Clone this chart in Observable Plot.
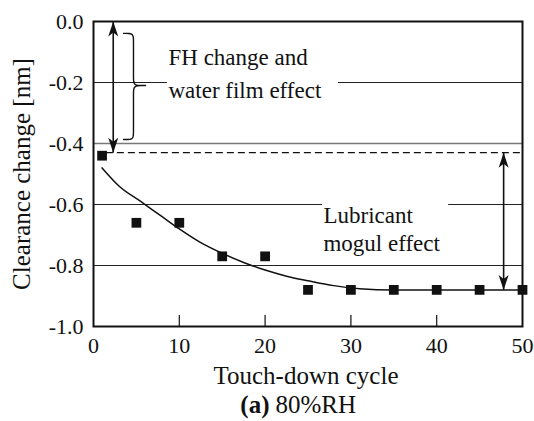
<!DOCTYPE html>
<html>
<head>
<meta charset="utf-8">
<script src="https://cdn.jsdelivr.net/npm/d3@7"></script>
<script src="https://cdn.jsdelivr.net/npm/@observablehq/plot@0.6"></script>
<style>
  html, body { margin: 0; padding: 0; background: #fff; }
  #chart svg { display: block; }
</style>
</head>
<body>
<div id="chart"></div>
<script>
// Measured points (square markers)
const cycles = [1, 5, 10, 15, 20, 25, 30, 35, 40, 45, 50];
const clearance = [-0.44, -0.66, -0.66, -0.77, -0.77, -0.88, -0.88, -0.88, -0.88, -0.88, -0.88];

// Fitted curve
const fitCycles = [1, 3, 5.5, 8, 10, 12.5, 15, 17.5, 20, 22.5, 25, 28, 31, 35, 40, 45, 50];
const fitClearance = [-0.48, -0.54, -0.59, -0.64, -0.68, -0.725, -0.76, -0.79, -0.815, -0.835, -0.85, -0.866, -0.876, -0.88, -0.88, -0.88, -0.88];

// Axis ticks
const xTicks = [0, 10, 20, 30, 40, 50];
const yTicks = [0, -0.2, -0.4, -0.6, -0.8, -1.0];

// Grid line segments (interrupted by the annotation text)
const gridY  = [-0.2, -0.2, -0.4, -0.6, -0.6, -0.8];
const gridX1 = [0, 28.55, 0, 0, 41.4, 0];
const gridX2 = [8.62, 50, 50, 26.7, 50, 50];

// Annotation text
const noteText = ["FH change and", "water film effect", "Lubricant", "mogul effect"];
const noteX = [8.74, 8.74, 26.8, 26.8];
const noteY = [-0.144, -0.252, -0.662, -0.754];

// Reference levels and arrows
const plateau = -0.43;
const arrowX = [2.3, 47.8];
const arrowFrom = [0, -0.43];
const arrowTo = [-0.43, -0.88];

// Brace "}" geometry
const brace = {xa: 3.5, xb: 4.66, xc: 6.06, bTop: -0.039, bMid: -0.21, bBot: -0.387, bR: 0.035};

const pts = cycles.map((c, i) => ({x: c, y: clearance[i]}));
const fit = fitCycles.map((c, i) => ({x: c, y: fitClearance[i]}));
const grid = gridY.map((g, i) => ({y: g, x1: gridX1[i], x2: gridX2[i]}));
const notes = noteText.map((t, i) => ({text: t, x: noteX[i], y: noteY[i]}));
const arrows = arrowX.map((x, i) => ({x, y1: arrowFrom[i], y2: arrowTo[i]}));
const heads = arrows.flatMap((a) => [{x: a.x, y: a.y1, rot: 0}, {x: a.x, y: a.y2, rot: 180}]);

// arrowhead symbol: tip at the origin, pointing up
const arrowHead = {
  draw(ctx) {
    ctx.moveTo(0, 0);
    ctx.lineTo(5, 15);
    ctx.lineTo(0, 11);
    ctx.lineTo(-5, 15);
    ctx.closePath();
  }
};

function bez(p0, p1, p2, p3, n = 16) {
  const out = [];
  for (let k = 0; k <= n; k++) {
    const t = k / n, u = 1 - t;
    out.push({
      x: u*u*u*p0[0] + 3*u*u*t*p1[0] + 3*u*t*t*p2[0] + t*t*t*p3[0],
      y: u*u*u*p0[1] + 3*u*u*t*p1[1] + 3*u*t*t*p2[1] + t*t*t*p3[1]
    });
  }
  return out;
}
function bracePoints(b) {
  const {xa, xb, xc, bTop, bMid, bBot, bR} = b;
  return [
    ...bez([xa, bTop], [xb, bTop], [xb, bTop], [xb, bTop - bR]),
    ...bez([xb, bMid + bR], [xb, bMid], [xb, bMid], [xc, bMid]),
    ...bez([xc, bMid], [xb, bMid], [xb, bMid], [xb, bMid - bR]),
    ...bez([xb, bBot + bR], [xb, bBot], [xb, bBot], [xa, bBot])
  ];
}
const bracePts = bracePoints(brace);

const font = "'Liberation Serif', serif";

const chart = Plot.plot({
  width: 534,
  height: 421,
  marginLeft: 93,
  marginRight: 12,
  marginTop: 21,
  marginBottom: 95,
  style: {fontFamily: font, fontSize: "22px", color: "#111", background: "#fff"},
  x: {domain: [0, 50]},
  y: {domain: [-1, 0]},
  marks: [
    Plot.ruleY(grid, {y: "y", x1: "x1", x2: "x2", stroke: (d) => d.y === -0.4 ? "#777" : "#222", strokeWidth: (d) => d.y === -0.4 ? 1.6 : 1}),
    Plot.ruleY([plateau], {x1: 1.5, x2: 50, stroke: "#111", strokeWidth: 1.3, strokeDasharray: "7,4"}),
    Plot.ruleX(xTicks.slice(1, -1), {x: (d) => d, y1: -1, y2: -0.964, stroke: "#111", strokeWidth: 1.2}),
    Plot.line(fit, {x: "x", y: "y", curve: "monotone-x", stroke: "#111", strokeWidth: 1.5}),
    Plot.dot(pts, {x: "x", y: "y", symbol: "square", r: 5.5, fill: "#111", stroke: "none"}),
    Plot.link(arrows, {x1: "x", x2: "x", y1: "y1", y2: "y2", stroke: "#111", strokeWidth: 1.6}),
    Plot.dot(heads, {x: "x", y: "y", rotate: "rot", symbol: arrowHead, fill: "#111", stroke: "none"}),
    Plot.line(bracePts, {x: "x", y: "y", stroke: "#111", strokeWidth: 1.4}),
    Plot.text(notes, {x: "x", y: "y", text: "text", textAnchor: "start", lineAnchor: "bottom", fontSize: 23, fontFamily: font, fill: "#111"}),
    Plot.axisY(yTicks, {tickSize: 0, tickPadding: 10, tickFormat: (d) => d.toFixed(1), label: null, fontSize: 22, fontFamily: font}),
    Plot.axisX(xTicks, {tickSize: 0, tickPadding: 11, tickFormat: (d) => String(d), label: null, fontSize: 22, fontFamily: font}),
    Plot.frame({stroke: "#111", strokeWidth: 2}),
    Plot.text(["Clearance change [nm]"], {frameAnchor: "left", rotate: -90, dx: -72, textAnchor: "middle", lineAnchor: "middle", fontSize: 25, fontFamily: font, fill: "#111"}),
    Plot.text(["Touch-down cycle"], {frameAnchor: "bottom", dx: -2, dy: 57, textAnchor: "middle", lineAnchor: "bottom", fontSize: 25, fontFamily: font, fill: "#111"}),
    Plot.text(["(a)"], {frameAnchor: "bottom", dx: -38.5, dy: 86, textAnchor: "end", lineAnchor: "bottom", fontSize: 25, fontWeight: "bold", fontFamily: font, fill: "#111"}),
    Plot.text(["80%RH"], {frameAnchor: "bottom", dx: -32.5, dy: 86, textAnchor: "start", lineAnchor: "bottom", fontSize: 25, fontFamily: font, fill: "#111"})
  ]
});
document.getElementById("chart").append(chart);
</script>
</body>
</html>
